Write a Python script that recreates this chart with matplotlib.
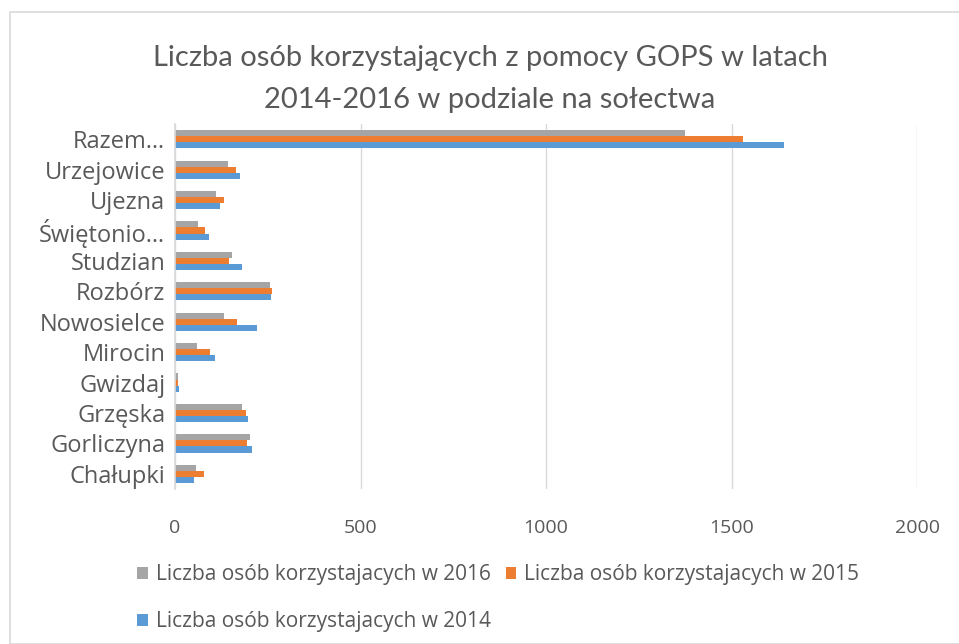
import matplotlib
matplotlib.use("Agg")
import matplotlib.pyplot as plt
from matplotlib.patches import Rectangle
import numpy as np

plt.rcParams['font.family'] = ['Open Sans', 'DejaVu Sans']

categories = ["Razem…", "Urzejowice", "Ujezna", "Świętonio…", "Studzian", "Rozbórz",
              "Nowosielce", "Mirocin", "Gwizdaj", "Grzęska", "Gorliczyna", "Chałupki"]
v2016 = [1375, 143, 111, 62, 153, 255, 131, 60, 7, 181, 201, 56]
v2015 = [1532, 164, 131, 80, 145, 262, 168, 93, 7, 191, 195, 78]
v2014 = [1642, 175, 121, 92, 181, 258, 220, 109, 12, 197, 208, 51]
xticks = [0, 500, 1000, 1500, 2000]

c16, c15, c14 = "#A5A5A5", "#ED7D31", "#5B9BD5"
txt = "#595959"

fig = plt.figure(figsize=(9.59, 6.44), dpi=100)
fig.patches.append(Rectangle((10/959, 0), 1.2, 1 - 12/644, transform=fig.transFigure,
                             fill=False, edgecolor="#d9d9d9", linewidth=1.2))

ax = fig.add_axes([175/959, 1 - 489/644, (917 - 175)/959, (489 - 124)/644])
y = np.arange(len(categories))
h = 0.2
ax.barh(y - h, v2016, height=h, color=c16, label="Liczba osób korzystajacych w 2016")
ax.barh(y, v2015, height=h, color=c15, label="Liczba osób korzystajacych w 2015")
ax.barh(y + h, v2014, height=h, color=c14, label="Liczba osób korzystajacych w 2014")
ax.set_ylim(len(categories) - 0.5, -0.5)
ax.set_xlim(0, 2000)
ax.set_xticks(xticks)
ax.set_xticklabels([str(t) for t in xticks], fontsize=14, color=txt)
ax.set_yticks(y)
ax.set_yticklabels(categories, fontsize=17, color=txt)
ax.tick_params(axis='both', length=0)
ax.tick_params(axis='x', pad=21.5)
ax.tick_params(axis='y', pad=7)
ax.grid(axis='x', color="#d9d9d9", linewidth=1)
ax.set_axisbelow(True)
for s in ['top', 'right', 'bottom']:
    ax.spines[s].set_visible(False)
ax.spines['left'].set_color("#d9d9d9")
ax.spines['left'].set_linewidth(1.2)

fig.text(490/959, 1 - 58/644, "Liczba osób korzystających z pomocy GOPS w latach",
         ha='center', va='center', fontsize=21, color=txt, family=['Lato', 'DejaVu Sans'])
fig.text(490/959, 1 - 100/644, "2014-2016 w podziale na sołectwa",
         ha='center', va='center', fontsize=21, color=txt, family=['Lato', 'DejaVu Sans'])

handles, labels = ax.get_legend_handles_labels()
order = [0, 2, 1]
leg = fig.legend([handles[i] for i in order], [labels[i] for i in order],
                 loc='upper left', bbox_to_anchor=(131/959, 1 - 558/644), ncol=2,
                 frameon=False, fontsize=15, handlelength=0.5, handleheight=0.5,
                 handletextpad=0.4, columnspacing=0.7, labelspacing=1.25,
                 borderpad=0.3, borderaxespad=0)
for t in leg.get_texts():
    t.set_color(txt)

fig.savefig("out.png", dpi=100)
